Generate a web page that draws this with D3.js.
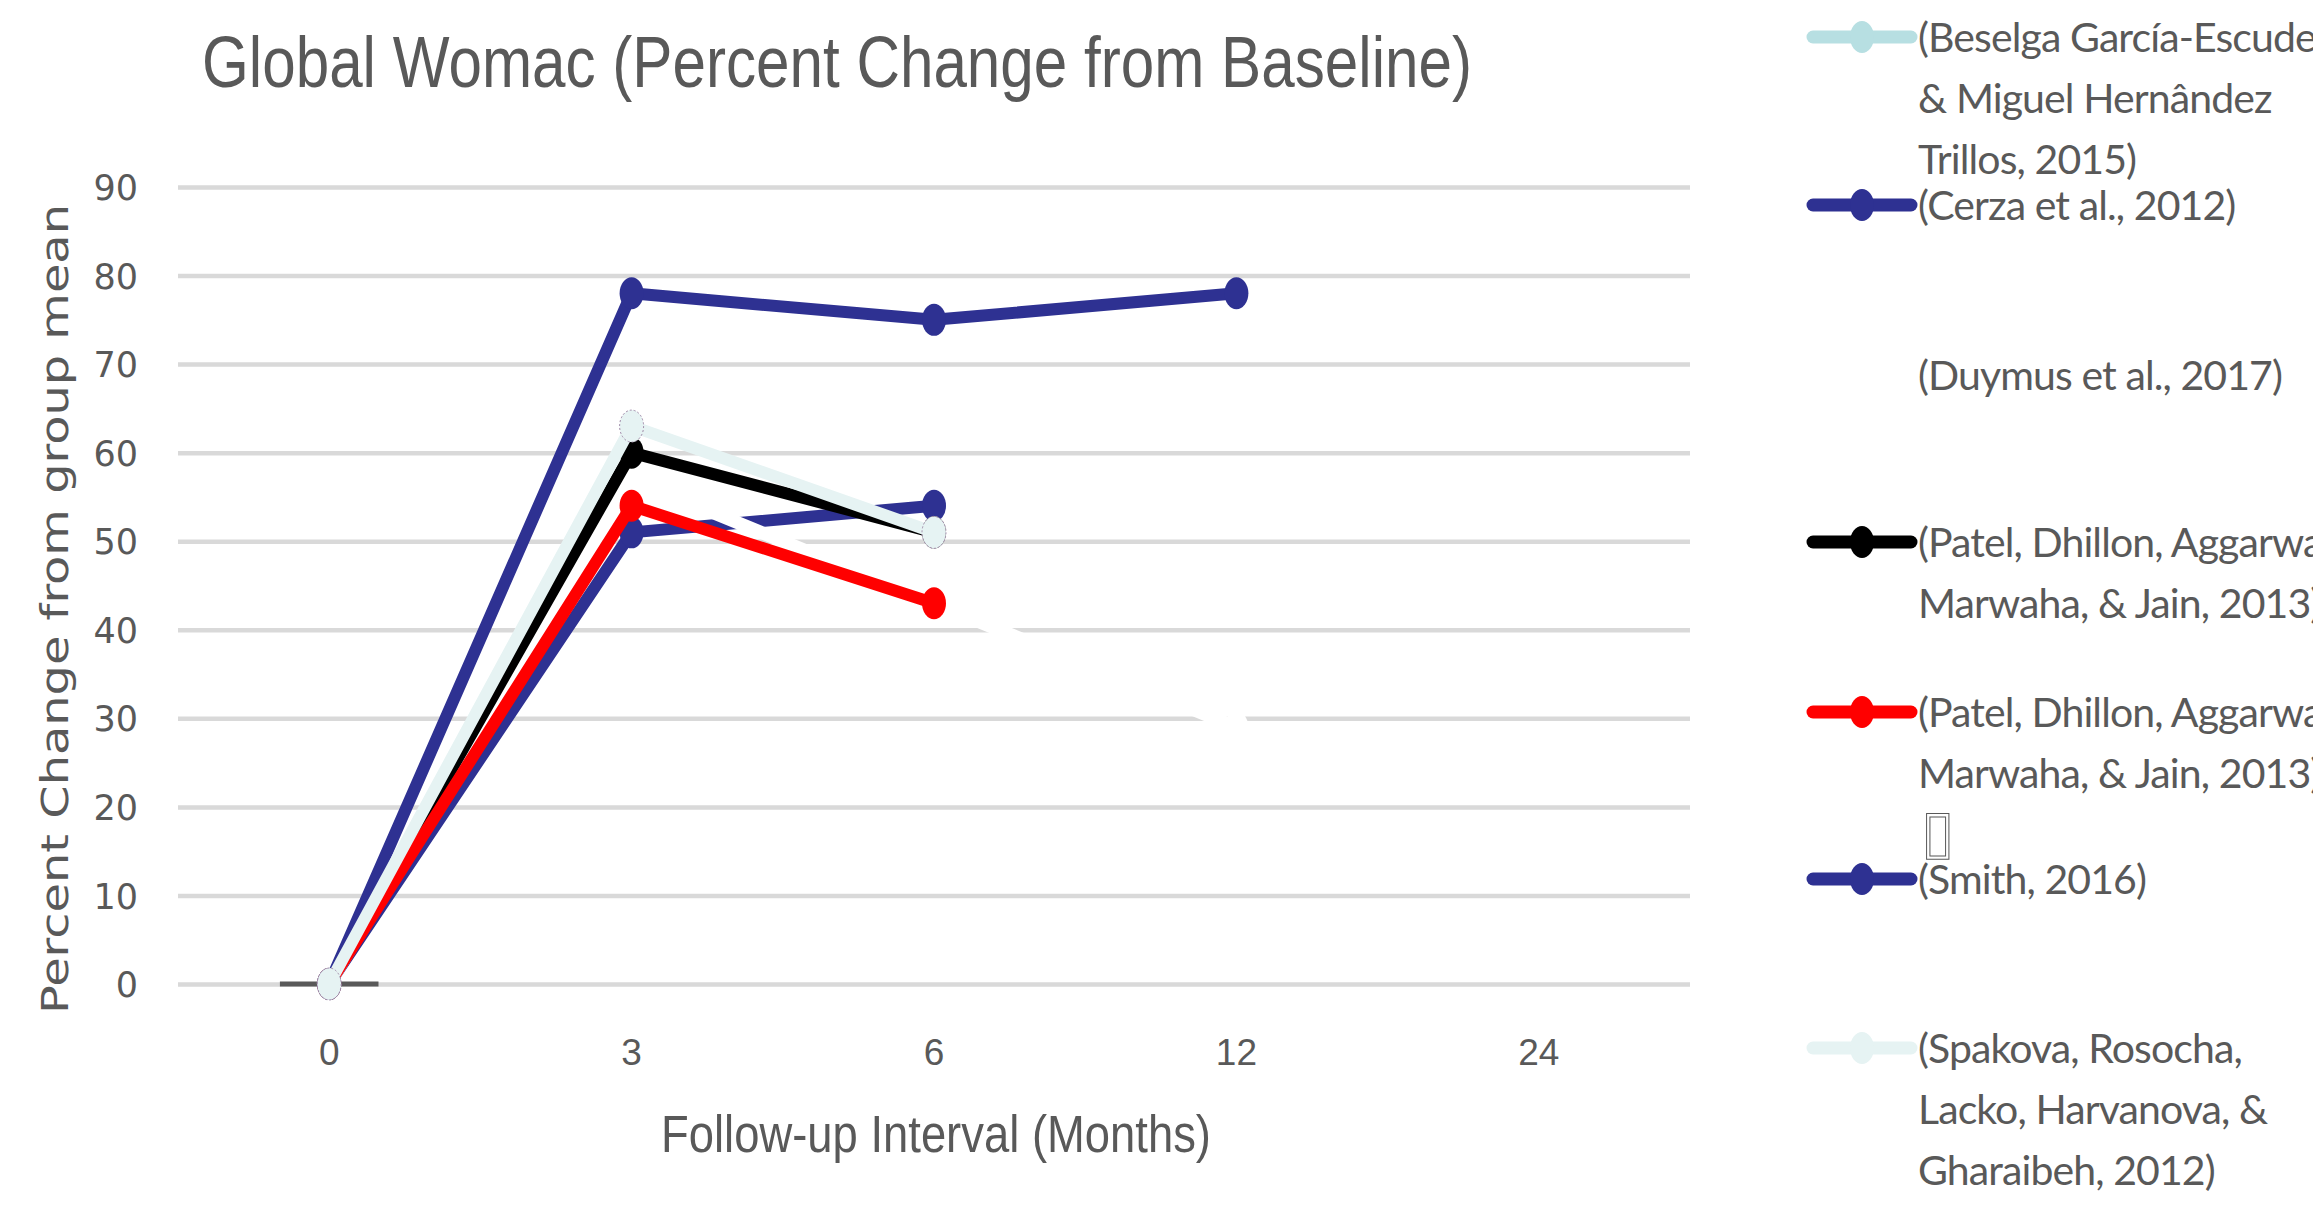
<!DOCTYPE html>
<html><head><meta charset="utf-8">
<script src="https://cdn.jsdelivr.net/npm/d3@7"></script>
<style>html,body{margin:0;padding:0;background:#fff;overflow:hidden}svg{display:block}</style>
</head><body>
<svg id="chart" width="2313" height="1220"></svg>
<script>
// ---- data ----
const months = ["0", "3", "6", "12", "24"];
const yTickValues = [0, 10, 20, 30, 40, 50, 60, 70, 80, 90];
const beselga = [0, null, null, null, null];
const cerza   = [0, 51, 54, null, null];
const duymus  = [0, 57, 43, 29, null];
const patelA  = [0, 60, 51, null, null];
const patelB  = [0, 54, 43, null, null];
const smith   = [0, 78, 75, 78, null];
const spakova = [0, 63, 51, null, null];
const legendLabels = [
  ["(Beselga García-Escudero", "& Miguel Hernândez", "Trillos, 2015)"],
  ["(Cerza et al., 2012)"],
  ["(Duymus et al., 2017)"],
  ["(Patel, Dhillon, Aggarwal,", "Marwaha, & Jain, 2013)"],
  ["(Patel, Dhillon, Aggarwal,", "Marwaha, & Jain, 2013)"],
  ["(Smith, 2016)"],
  ["(Spakova, Rosocha,", "Lacko, Harvanova, &", "Gharaibeh, 2012)"]
];
const titleText = "Global Womac (Percent Change from Baseline)";
const xTitleText = "Follow-up Interval (Months)";
const yTitleText = "Percent Change from group mean";

// ---- styles / layout ----
const seriesValues = [beselga, cerza, duymus, patelA, patelB, smith, spakova];
const colors = ["#b7dfe2", "#2e3192", "#ffffff", "#000000", "#ff0000", "#2e3192", "#e6f3f3"];
const widths = [12, 12, 13, 12, 12, 12, 12];
const legendLineY = [37, 205, 375, 542, 712, 879, 1048];
const textColor = "#595959";
const condensed = "'Liberation Sans Narrow', 'Liberation Sans', Arial, sans-serif";

const svg = d3.select("#chart");
const x = d3.scaleBand().domain(months).range([178, 1690]);
const y = d3.scaleLinear().domain([0, 90]).range([984, 187]);
const cx = m => x(m) + x.bandwidth() / 2;

// gridlines
const grid = svg.append("g").attr("transform", "translate(178,0)")
  .call(d3.axisLeft(y).tickValues(yTickValues).tickSize(-(1690 - 178)).tickFormat(""));
grid.select(".domain").remove();
grid.selectAll("line").attr("stroke", "#d9d9d9").attr("stroke-width", 4.5);

// y tick labels
const yAx = svg.append("g").attr("transform", "translate(178,0)")
  .call(d3.axisLeft(y).tickValues(yTickValues).tickSize(0).tickPadding(40));
yAx.select(".domain").remove();
yAx.selectAll("text").attr("fill", textColor).attr("font-family", "'DejaVu Sans', sans-serif")
  .attr("font-size", 35).attr("dy", "0.36em");

// x tick labels
const xAx = svg.append("g").attr("transform", "translate(0,984)")
  .call(d3.axisBottom(x).tickSize(0).tickPadding(0));
xAx.select(".domain").remove();
xAx.selectAll("text").attr("fill", textColor).attr("font-family", condensed)
  .attr("font-size", 37).attr("dy", null).attr("y", 81);

// baseline dash at origin
svg.append("line")
  .attr("x1", cx(months[0]) - x.bandwidth() * 0.163).attr("x2", cx(months[0]) + x.bandwidth() * 0.163)
  .attr("y1", y(0)).attr("y2", y(0)).attr("stroke", "#595959").attr("stroke-width", 5);

// series
const line = d3.line().defined(d => d.v != null).x(d => cx(d.m)).y(d => y(d.v));
seriesValues.forEach((vals, i) => {
  const pts = months.map((m, j) => ({ m, v: vals[j] }));
  const g = svg.append("g");
  g.append("path").datum(pts).attr("d", line).attr("fill", "none")
    .attr("stroke", colors[i]).attr("stroke-width", widths[i])
    .attr("stroke-linejoin", "round").attr("stroke-linecap", "round");
  g.selectAll("ellipse").data(pts.filter(d => d.v != null)).join("ellipse")
    .attr("cx", d => cx(d.m)).attr("cy", d => y(d.v)).attr("rx", 12).attr("ry", 16)
    .attr("fill", colors[i])
    .attr("stroke", i === 6 ? "#a08aa8" : "none").attr("stroke-width", 1)
    .attr("stroke-dasharray", i === 6 ? "2,2" : null);
});

// title
svg.append("text").attr("x", 837).attr("y", 87).attr("text-anchor", "middle")
  .attr("font-family", condensed).attr("font-size", 73).attr("fill", textColor)
  .attr("textLength", 1270).attr("lengthAdjust", "spacingAndGlyphs").text(titleText);

// x title
svg.append("text").attr("x", 936).attr("y", 1152).attr("text-anchor", "middle")
  .attr("font-family", condensed).attr("font-size", 51).attr("fill", textColor)
  .attr("textLength", 550).attr("lengthAdjust", "spacingAndGlyphs").text(xTitleText);

// y title
svg.append("text").attr("transform", "translate(68,609) rotate(-90)").attr("text-anchor", "middle")
  .attr("font-family", "'DejaVu Sans', sans-serif").attr("font-size", 37).attr("fill", textColor)
  .attr("textLength", 810).attr("lengthAdjust", "spacingAndGlyphs").text(yTitleText);

// legend
const leg = svg.append("g");
legendLabels.forEach((lines, i) => {
  const ly = legendLineY[i];
  leg.append("line").attr("x1", 1813).attr("x2", 1911).attr("y1", ly).attr("y2", ly)
    .attr("stroke", colors[i]).attr("stroke-width", 13).attr("stroke-linecap", "round");
  leg.append("ellipse").attr("cx", 1862).attr("cy", ly).attr("rx", 12).attr("ry", 16).attr("fill", colors[i]);
  const t = leg.append("text").attr("font-family", "Lato, 'Open Sans', sans-serif").attr("font-size", 41)
    .attr("letter-spacing", -0.9).attr("fill", textColor);
  lines.forEach((s, k) => {
    t.append("tspan").attr("x", 1918).attr("y", ly + 15 + k * 61).text(s);
  });
});
// stray glyph box above Smith entry
leg.append("text").attr("x", 1921).attr("y", 852).attr("font-family", "'DejaVu Sans', sans-serif")
  .attr("font-size", 60).attr("fill", "none").attr("stroke", textColor).attr("stroke-width", 1).text("▯");
</script>
</body></html>
